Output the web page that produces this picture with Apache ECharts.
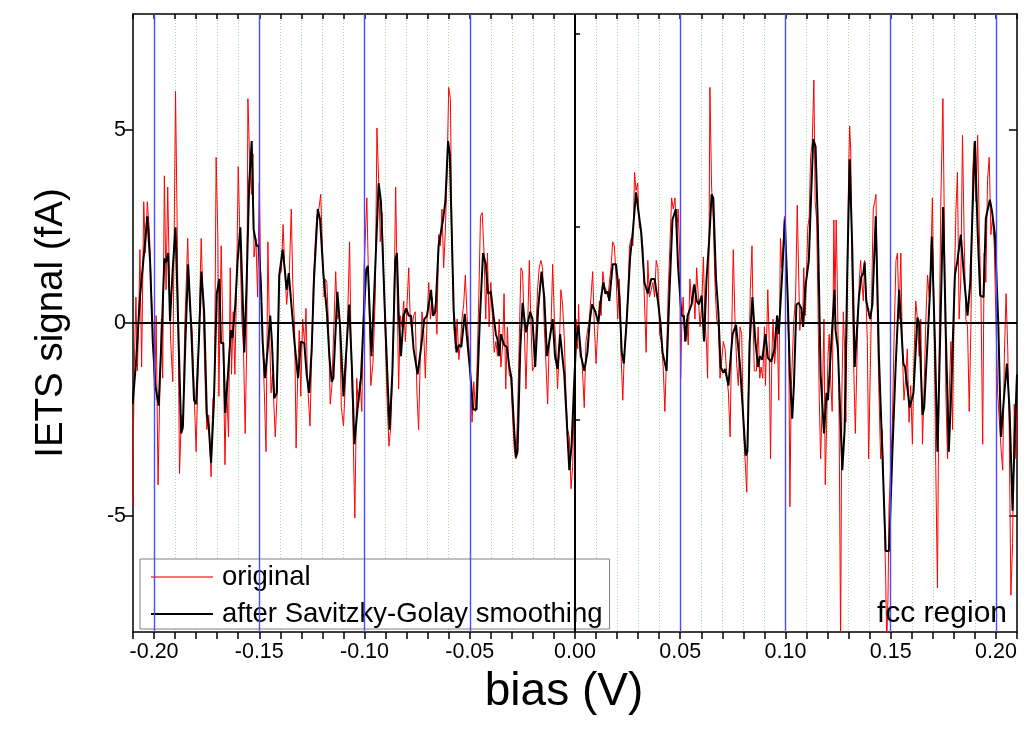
<!DOCTYPE html>
<html>
<head>
<meta charset="utf-8">
<script src="https://cdn.jsdelivr.net/npm/echarts@6/dist/echarts.min.js"></script>
<style>
html,body{margin:0;padding:0;background:#fff;}
#chart{width:1029px;height:744px;}
</style>
</head>
<body>
<div id="chart"></div>
<script>
// ---- data (bias in V, signal in fA) ----
const xTickLabels = [-0.20, -0.15, -0.10, -0.05, 0.00, 0.05, 0.10, 0.15, 0.20];
const yTickLabels = [-5, 0, 5];
const yMinorTicks = [-7.5, -2.5, 2.5, 7.5];
const majorGridX = [-0.20, -0.15, -0.10, -0.05, 0.05, 0.10, 0.15, 0.20];

const smoothX = [
-0.2102,-0.2086,-0.2078,-0.2067,-0.2059,-0.2046,-0.2032,-0.2019,-0.2006,-0.1994,-0.1987,-0.1978,-0.1965,-0.1951,-0.1943,-0.1933,-0.1924,-0.1911,-0.1898,-0.1886,
-0.1871,-0.1863,-0.1851,-0.1838,-0.1824,-0.1810,-0.1800,-0.1787,-0.1775,-0.1762,-0.1749,-0.1740,-0.1729,-0.1716,-0.1702,
-0.1690,-0.1682,-0.1671,-0.1662,-0.1651,-0.1635,-0.1627,-0.1614,-0.1603,-0.1590,-0.1579,-0.1571,-0.1560,-0.1548,-0.1536,-0.1527,-0.1513,-0.1503,-0.1492,-0.1484,
-0.1473,-0.1460,-0.1448,-0.1440,-0.1429,-0.1417,-0.1405,-0.1389,-0.1378,-0.1370,-0.1360,-0.1349,-0.1333,-0.1316,-0.1302,-0.1286,
-0.1275,-0.1263,-0.1251,-0.1240,-0.1222,-0.1211,-0.1195,-0.1179,-0.1167,-0.1156,-0.1148,-0.1129,-0.1116,-0.1100,-0.1073,-0.1060,-0.1048,-0.1033,-0.1017,-0.1005,
-0.0992,-0.0984,-0.0967,-0.0949,-0.0933,-0.0922,-0.0902,-0.0881,-0.0868,-0.0854,-0.0846,
-0.0838,-0.0827,-0.0814,-0.0802,-0.0790,-0.0779,-0.0767,-0.0748,-0.0732,-0.0716,-0.0703,-0.0684,-0.0675,-0.0663,-0.0648,-0.0627,-0.0616,-0.0603,-0.0595,-0.0576,
-0.0563,-0.0552,-0.0540,-0.0524,-0.0516,-0.0500,-0.0484,-0.0468,-0.0452,-0.0437,
-0.0424,-0.0413,-0.0400,-0.0387,-0.0376,-0.0368,-0.0360,-0.0352,-0.0337,-0.0324,-0.0313,-0.0302,-0.0289,-0.0281,-0.0273,-0.0260,-0.0249,-0.0233,-0.0213,-0.0202,
-0.0189,-0.0175,-0.0159,-0.0146,-0.0133,-0.0122,-0.0106,-0.0095,-0.0083,-0.0071,-0.0063,-0.0051,-0.0038,-0.0027,-0.0016,-0.0006,
0.0005,0.0016,0.0029,0.0044,0.0059,0.0071,0.0081,0.0097,0.0111,0.0124,0.0135,0.0144,0.0156,0.0163,0.0179,0.0195,0.0211,0.0222,0.0232,0.0246,
0.0262,0.0275,0.0290,0.0302,0.0314,0.0330,0.0346,0.0362,0.0378,0.0394,0.0406,
0.0416,0.0435,0.0448,0.0463,0.0479,0.0490,0.0506,0.0517,0.0525,0.0535,0.0543,0.0554,0.0567,0.0578,0.0589,0.0602,0.0613,0.0625,0.0638,0.0649,
0.0657,0.0670,0.0681,0.0692,0.0705,0.0713,0.0729,0.0740,0.0749,0.0765,0.0784,0.0792,0.0811,0.0819,
0.0830,0.0843,0.0857,0.0870,0.0878,0.0889,0.0905,0.0916,0.0932,0.0948,0.0960,0.0968,0.0984,0.0997,0.1011,0.1021,0.1032,0.1040,0.1052,0.1063,
0.1075,0.1084,0.1095,0.1111,0.1122,0.1132,0.1143,0.1154,0.1167,0.1183,0.1195,0.1202,0.1214,0.1233,
0.1238,0.1249,0.1270,0.1281,0.1294,0.1305,0.1317,0.1329,0.1338,0.1349,0.1360,0.1370,0.1376,0.1384,0.1402,0.1413,0.1429,0.1444,0.1460,0.1476,
0.1492,0.1508,0.1524,0.1540,0.1548,0.1560,0.1568,0.1576,0.1590,0.1608,0.1627,0.1635,0.1651,
0.1659,0.1675,0.1687,0.1695,0.1710,0.1722,0.1735,0.1749,0.1762,0.1776,0.1789,0.1805,0.1817,0.1833,0.1849,0.1865,0.1878,0.1889,0.1900,0.1913,
0.1925,0.1941,0.1952,0.1960,0.1971,0.1981,0.1989,0.1995,0.2011,0.2024,0.2037,0.2052,0.2065,0.2079,0.2090,0.2100
];
const smoothY = [
-2.10,-1.05,-1.05,0.67,0.67,1.90,2.76,1.62,-0.48,-1.62,-1.67,-2.14,-0.48,1.67,1.57,1.81,0.05,1.43,2.48,0.10,
-2.86,-2.67,-0.48,1.52,-0.05,-2.00,-2.10,-0.48,1.33,0.29,-2.38,-2.67,-3.62,-2.10,0.76,
1.14,-0.52,-0.52,-2.33,-1.52,-0.19,-0.38,0.48,1.62,2.48,0.67,-0.76,1.05,3.62,4.71,2.43,2.00,2.00,0.95,-0.48,
-1.43,-0.67,0.19,-0.48,-1.95,-1.81,1.24,1.90,1.33,0.86,1.29,0.57,-0.48,-1.43,-0.48,-0.52,
-1.33,-1.81,-0.67,1.14,2.95,2.67,1.24,0.29,-0.86,-1.52,-1.43,0.81,-0.10,-1.90,0.48,-1.14,-3.14,-2.19,-1.43,0.00,
1.38,1.48,-0.86,1.43,3.62,3.14,0.10,-2.76,-1.33,1.62,1.81,
0.29,-0.86,0.19,0.38,0.19,0.19,-0.67,-1.33,-0.67,0.10,0.19,0.86,0.19,0.29,2.00,2.67,3.14,4.71,4.38,0.29,
-0.76,-0.57,-0.62,0.24,0.19,-1.14,-2.24,-2.24,0.10,1.81,
1.52,0.76,0.81,0.19,-0.29,-0.43,-0.86,-0.29,-0.57,-0.62,-1.10,-1.43,-2.76,-3.48,-3.33,-0.67,0.52,-0.24,0.29,0.10,
-1.14,0.38,1.33,0.67,-0.86,-0.48,0.10,-0.86,-1.19,-0.29,-0.33,-1.33,-2.67,-3.81,-3.14,-1.81,
-0.48,-0.05,-0.86,-1.24,-0.76,0.10,0.48,0.29,0.00,0.67,1.05,0.76,0.81,0.57,1.52,1.52,0.67,-0.76,-1.05,0.10,
1.71,2.38,3.38,2.86,2.38,1.05,0.76,1.14,1.14,0.57,0.00,
-0.76,-1.24,0.67,2.67,2.95,1.43,0.19,0.19,-0.48,0.19,0.24,0.48,1.00,0.57,0.48,0.71,-0.48,1.14,2.19,3.33,
3.24,1.14,0.29,-1.14,-1.29,-1.19,-1.62,-0.86,-0.29,-0.05,-1.10,-1.10,-3.43,-3.33,
-0.50,0.67,-0.48,-1.14,-0.86,-0.95,-0.29,-0.90,-1.00,-0.67,0.19,-0.29,1.24,2.67,0.57,-1.33,-2.48,-1.62,0.48,0.52,
0.38,-0.10,0.95,1.62,3.33,4.76,4.57,2.48,-1.33,-2.86,-1.81,-2.00,-0.86,0.86,
-0.19,-0.67,-3.81,-2.76,1.43,4.24,2.00,-1.14,-1.19,0.67,1.19,1.29,1.57,0.57,0.10,0.48,2.76,-0.86,-3.33,-5.90,
-5.90,-3.33,-1.05,0.86,0.81,-1.05,-1.14,-1.14,-2.19,-1.81,0.14,0.00,-2.38,
-2.19,-0.48,0.86,2.24,-0.48,-3.33,-0.38,3.00,-0.29,-3.33,-1.52,1.24,1.62,2.29,1.14,0.19,1.05,2.95,4.71,2.38,
0.71,0.67,2.71,2.71,3.19,2.90,2.90,2.29,0.00,-2.95,-2.00,-1.05,-2.29,-4.86,-2.76,-1.33
];

const originalX = [
-0.2102,-0.2094,-0.2086,-0.2079,-0.2073,-0.2067,-0.2059,-0.2049,-0.2041,-0.2032,-0.2022,-0.2013,-0.2006,-0.1997,-0.1990,-0.1981,-0.1971,-0.1965,-0.1959,-0.1951,
-0.1943,-0.1935,-0.1927,-0.1921,-0.1911,-0.1898,-0.1889,-0.1879,-0.1870,-0.1863,-0.1854,-0.1840,-0.1832,-0.1819,-0.1806,-0.1800,-0.1787,-0.1776,-0.1765,-0.1756,
-0.1749,-0.1740,-0.1729,-0.1721,-0.1713,-0.1705,-0.1697,-0.1692,-0.1681,
-0.1671,-0.1663,-0.1656,-0.1646,-0.1638,-0.1632,-0.1624,-0.1616,-0.1608,-0.1600,-0.1592,-0.1583,-0.1575,-0.1567,-0.1560,-0.1554,-0.1544,-0.1537,-0.1530,-0.1525,
-0.1516,-0.1508,-0.1500,-0.1494,-0.1484,-0.1476,-0.1468,-0.1459,-0.1452,-0.1444,-0.1437,-0.1424,-0.1414,-0.1405,-0.1395,-0.1387,-0.1379,-0.1370,-0.1357,-0.1348,
-0.1341,-0.1332,-0.1325,-0.1317,-0.1310,-0.1303,-0.1294,-0.1284,-0.1278,-0.1271,
-0.1259,-0.1251,-0.1243,-0.1235,-0.1227,-0.1217,-0.1208,-0.1202,-0.1192,-0.1186,-0.1179,-0.1171,-0.1163,-0.1155,-0.1148,-0.1137,-0.1129,-0.1119,-0.1110,-0.1100,
-0.1087,-0.1079,-0.1071,-0.1063,-0.1056,-0.1046,-0.1037,-0.1029,-0.1021,-0.1013,-0.1002,-0.0989,-0.0979,-0.0970,-0.0960,-0.0949,-0.0941,-0.0933,-0.0925,-0.0917,
-0.0906,-0.0894,-0.0884,-0.0875,-0.0865,-0.0859,-0.0852,
-0.0846,-0.0838,-0.0830,-0.0822,-0.0814,-0.0806,-0.0798,-0.0790,-0.0783,-0.0775,-0.0767,-0.0759,-0.0751,-0.0743,-0.0735,-0.0727,-0.0719,-0.0711,-0.0703,-0.0695,
-0.0687,-0.0679,-0.0671,-0.0663,-0.0656,-0.0648,-0.0640,-0.0632,-0.0624,-0.0616,-0.0608,-0.0600,-0.0592,-0.0584,-0.0576,-0.0568,-0.0560,-0.0552,-0.0544,-0.0537,
-0.0529,-0.0521,-0.0513,-0.0505,-0.0497,-0.0489,-0.0481,-0.0473,-0.0465,-0.0457,-0.0449,-0.0441,
-0.0432,-0.0424,-0.0416,-0.0408,-0.0400,-0.0392,-0.0384,-0.0376,-0.0368,-0.0360,-0.0352,-0.0344,-0.0337,-0.0329,-0.0321,-0.0313,-0.0305,-0.0297,-0.0289,-0.0281,
-0.0273,-0.0265,-0.0257,-0.0249,-0.0241,-0.0233,-0.0225,-0.0217,-0.0210,-0.0202,-0.0194,-0.0186,-0.0178,-0.0170,-0.0162,-0.0154,-0.0146,-0.0138,-0.0130,-0.0122,
-0.0114,-0.0106,-0.0098,-0.0090,-0.0083,-0.0075,-0.0067,-0.0059,-0.0051,-0.0043,-0.0035,-0.0027,-0.0019,-0.0011,-0.0003,
0.0005,0.0013,0.0017,0.0024,0.0033,0.0044,0.0052,0.0060,0.0068,0.0076,0.0084,0.0092,0.0100,0.0108,0.0116,0.0124,0.0132,0.0140,0.0148,0.0156,
0.0163,0.0171,0.0179,0.0187,0.0195,0.0203,0.0211,0.0219,0.0227,0.0235,0.0243,0.0251,0.0259,0.0267,0.0275,0.0283,0.0290,0.0298,0.0306,0.0314,
0.0322,0.0330,0.0338,0.0346,0.0354,0.0362,0.0370,0.0378,0.0386,0.0394,0.0402,0.0410,
0.0419,0.0427,0.0435,0.0443,0.0451,0.0459,0.0467,0.0475,0.0483,0.0490,0.0498,0.0502,0.0508,0.0514,0.0522,0.0530,0.0538,0.0546,0.0554,0.0562,
0.0570,0.0578,0.0586,0.0594,0.0602,0.0610,0.0617,0.0625,0.0630,0.0637,0.0641,0.0649,0.0657,0.0665,0.0673,0.0681,0.0689,0.0697,0.0705,0.0713,
0.0721,0.0729,0.0737,0.0744,0.0752,0.0760,0.0768,0.0776,0.0784,0.0792,0.0800,0.0808,0.0816,0.0824,
0.0833,0.0841,0.0846,0.0852,0.0862,0.0870,0.0878,0.0884,0.0892,0.0900,0.0905,0.0910,0.0916,0.0922,0.0929,0.0935,0.0941,0.0948,0.0954,0.0960,
0.0968,0.0976,0.0983,0.0989,0.0995,0.1000,0.1008,0.1016,0.1021,0.1027,0.1033,0.1040,0.1048,0.1056,0.1060,0.1068,0.1075,0.1081,0.1087,0.1094,
0.1100,0.1106,0.1113,0.1119,0.1127,0.1135,0.1141,0.1148,0.1154,0.1160,0.1167,0.1175,0.1183,0.1189,0.1195,0.1202,0.1208,0.1214,0.1222,
0.1230,0.1235,0.1241,0.1246,0.1254,0.1262,0.1268,0.1275,0.1281,0.1287,0.1294,0.1300,0.1305,0.1310,0.1317,0.1325,0.1332,0.1338,0.1344,0.1351,
0.1357,0.1363,0.1370,0.1376,0.1383,0.1389,0.1395,0.1402,0.1408,0.1417,0.1424,0.1430,0.1437,0.1444,0.1452,0.1460,0.1468,0.1476,0.1481,0.1487,
0.1492,0.1500,0.1508,0.1516,0.1525,0.1532,0.1540,0.1548,0.1556,0.1563,0.1571,0.1579,0.1587,0.1595,0.1603,0.1611,0.1619,0.1627,0.1635,0.1643,0.1651,
0.1659,0.1667,0.1675,0.1683,0.1690,0.1698,0.1706,0.1714,0.1722,0.1730,0.1738,0.1748,0.1754,0.1762,0.1770,0.1778,0.1786,0.1794,0.1802,0.1810,
0.1817,0.1825,0.1833,0.1841,0.1849,0.1857,0.1865,0.1873,0.1881,0.1889,0.1897,0.1905,0.1913,0.1921,0.1929,0.1937,0.1944,0.1952,0.1960,0.1968,
0.1976,0.1984,0.1992,0.2000,0.2008,0.2016,0.2024,0.2032,0.2040,0.2048,0.2056,0.2063,0.2071,0.2079,0.2087,0.2095,0.2100
];
const originalY = [
-4.76,-1.14,0.67,-1.24,0.10,1.90,-1.14,3.14,1.81,3.14,2.38,0.86,-0.10,-2.00,0.19,-4.19,-1.33,0.10,-1.43,3.81,
0.86,3.52,1.05,-0.48,-1.52,6.00,2.00,-3.90,-2.38,-2.76,-0.10,2.19,0.48,-0.19,-2.38,-3.33,-0.29,2.19,0.10,-1.81,
-2.76,-2.38,-3.98,-2.00,-1.81,4.29,2.29,-1.90,2.00,
-0.76,-3.67,-1.52,-2.95,1.43,-1.33,0.29,-1.33,0.95,4.05,2.19,0.10,-0.67,-2.86,-0.67,5.81,3.90,3.33,4.38,1.71,
2.19,0.67,3.62,1.43,-0.48,-1.81,-3.33,2.10,-0.10,-1.81,-1.33,-2.95,-1.71,1.24,1.33,2.55,1.43,0.48,1.33,2.95,
1.05,-0.19,-3.24,-1.24,-0.19,-1.90,0.10,-0.57,0.38,-1.52,
-2.67,-0.86,1.05,2.00,2.76,2.95,3.33,2.29,0.67,1.14,1.05,-0.10,-2.10,-1.62,-1.62,1.33,0.10,0.29,-2.19,-2.67,
-1.05,0.38,2.10,-0.86,-2.38,-5.05,-1.43,-2.19,-1.52,-2.29,1.43,3.24,0.57,-1.62,-1.05,0.67,5.05,3.71,2.10,2.86,
0.57,-1.81,-3.19,-2.67,-0.86,0.95,3.52,
1.33,-1.71,0.19,-0.10,0.57,-0.48,0.48,1.43,0.10,-0.19,0.19,0.29,-1.81,-2.76,-0.86,0.29,-0.19,-1.43,0.10,1.05,
0.10,0.67,0.19,0.48,-0.29,2.29,2.00,2.95,1.43,2.38,3.90,6.10,5.81,1.81,-0.10,-0.67,0.10,-0.95,-0.48,0.10,
0.48,1.24,0.19,-0.57,-1.33,-2.57,-1.52,-2.29,-1.05,0.67,2.76,2.86,
1.81,0.10,1.81,-0.10,1.05,1.05,-0.76,-0.48,-0.86,0.10,-1.14,-0.57,0.76,-1.71,-0.10,-1.33,-1.43,-2.38,-3.24,-3.52,
-2.38,-0.48,1.43,1.33,-0.10,-1.71,-0.10,1.62,0.10,-1.24,-1.14,-0.29,0.86,1.43,1.62,1.43,-0.10,-1.05,-2.10,-0.38,
-0.10,1.52,0.10,-0.67,-1.71,-0.76,0.86,0.48,-0.38,-1.81,-2.76,-2.95,-4.29,-3.71,-1.62,
0.10,-0.67,0.48,-0.86,-0.95,-2.19,-0.48,-0.48,0.10,0.67,1.33,-0.10,-1.05,-0.19,0.57,0.19,1.33,0.95,0.86,0.67,
0.67,1.43,2.10,2.00,1.24,0.10,1.14,-0.86,-2.00,-0.67,-0.10,0.67,2.00,2.19,2.00,3.90,3.43,3.62,2.48,2.38,
2.00,0.57,-0.76,1.62,0.67,0.86,1.05,0.67,1.62,1.43,-0.29,-0.48,
-1.14,-2.29,-0.86,0.86,2.00,3.24,2.95,3.24,2.29,2.95,1.71,-1.43,0.10,0.67,-0.48,0.10,-0.57,1.14,0.48,0.95,
0.10,1.43,0.67,-0.10,0.48,1.71,0.10,-0.57,-1.43,2.19,6.10,3.52,2.67,1.05,0.10,-0.10,-1.43,-1.43,-0.48,-0.67,
-1.33,-1.81,-2.95,-0.38,1.90,0.10,-1.05,-1.62,-0.10,-0.29,-2.76,-3.52,-4.38,-1.81,
0.86,2.00,0.10,-1.24,-1.24,-0.10,-1.43,-1.14,-1.43,-0.10,-1.62,-1.62,0.86,-0.29,-3.52,-0.86,0.10,-1.05,-0.67,0.19,
-2.00,2.19,1.43,2.00,2.76,2.76,1.05,-0.86,-4.76,-1.81,-0.86,0.10,0.67,3.05,2.00,-0.19,0.29,-0.10,1.43,0.19,
1.24,2.48,2.76,4.29,4.67,6.29,3.14,2.67,0.67,-1.81,-3.52,-2.00,0.10,-4.19,-2.76,-0.86,-0.29,-1.43,-2.29,
2.67,0.57,2.67,1.05,-1.81,-8.30,-1.81,0.29,-0.67,-2.57,1.05,3.90,5.10,4.48,1.05,-1.33,-2.86,-1.33,0.10,1.14,
1.62,1.05,0.57,1.62,0.57,-0.48,-3.52,-1.52,0.29,2.95,3.14,3.33,0.10,-1.81,-3.52,-2.76,-4.67,-6.57,-8.30,-7.14,
-4.76,-3.71,-2.57,-0.38,1.62,1.81,0.10,1.81,-0.86,-2.00,-1.43,-0.67,-2.57,-1.62,-3.14,-0.86,0.57,0.10,-0.86,0.10,-3.14,
-1.62,0.10,1.24,0.67,1.43,3.24,0.10,-3.71,-6.86,-0.86,3.14,5.81,2.95,-1.81,-3.52,-1.81,-0.48,-2.76,0.86,2.95,
3.90,0.10,1.14,4.86,2.19,0.10,-0.10,-2.29,-0.10,3.90,4.67,3.14,4.86,2.38,0.57,-3.14,1.81,1.05,3.71,4.29,
2.29,2.76,2.00,0.10,-1.81,-1.81,-3.24,-3.81,-0.86,0.76,-0.67,-2.76,-7.05,-5.71,-2.10,-3.52,-2.20
];

const smoothData = smoothX.map((x, i) => [x, smoothY[i]]);
const originalData = originalX.map((x, i) => [x, originalY[i]]);

const FONT = '"Liberation Sans", Arial, sans-serif';
const chart = echarts.init(document.getElementById('chart'), null, {renderer: 'canvas'});

function xFmt(v) {
  const k = Math.round(v * 100);
  if (k % 5 !== 0) return '';
  return (k / 100).toFixed(2);
}

const option = {
  animation: false,
  backgroundColor: '#ffffff',
  grid: {left: 133, right: 12, top: 14, bottom: 112, containLabel: false},
  title: {
    text: 'fcc region', right: 22, bottom: 115, padding: 0,
    textStyle: {fontFamily: FONT, fontSize: 30, fontWeight: 'normal', color: '#000'}
  },
  legend: {
    orient: 'vertical', left: 140, top: 559,
    data: [
      {name: 'original', icon: 'rect', itemStyle: {color: '#ff7070'}},
      {name: 'after Savitzky-Golay smoothing', icon: 'rect', itemStyle: {color: '#000000'}}
    ],
    itemWidth: 62, itemHeight: 2, itemGap: 7,
    padding: [3, 7, 0, 11],
    borderColor: '#808080', borderWidth: 1, backgroundColor: '#ffffff',
    textStyle: {fontFamily: FONT, fontSize: 27.5, color: '#000', lineHeight: 30, padding: [0, 0, 0, 4]}
  },
  xAxis: [
    {
      type: 'value', position: 'bottom', min: -0.21, max: 0.21, interval: 0.01,
      name: 'bias (V)', nameLocation: 'middle', nameGap: 37,
      nameTextStyle: {fontFamily: FONT, fontSize: 46, color: '#000', padding: [0, 22, 0, 0]},
      axisLine: {show: true, onZero: false, lineStyle: {color: '#000', width: 1.5}},
      axisTick: {show: true, inside: false, length: 7, lineStyle: {color: '#000', width: 1.5}},
      axisLabel: {show: true, formatter: xFmt, fontFamily: FONT, fontSize: 21.5, color: '#000', margin: 9, showMinLabel: true, showMaxLabel: true},
      splitLine: {show: true, lineStyle: {color: '#8fe08f', type: [1, 2], width: 1}}
    },
    {
      type: 'value', position: 'top', min: -0.21, max: 0.21, interval: 0.01,
      axisLine: {show: true, onZero: false, lineStyle: {color: '#000', width: 1.5}},
      axisTick: {show: true, inside: true, length: 5, lineStyle: {color: '#000', width: 1.5}},
      axisLabel: {show: false}, splitLine: {show: false}
    }
  ],
  yAxis: [
    {
      type: 'value', position: 'left', min: -8, max: 8,
      name: 'IETS signal (fA)', nameLocation: 'middle', nameGap: 62, nameRotate: 90,
      nameTextStyle: {fontFamily: FONT, fontSize: 38.5, color: '#000'},
      axisLine: {show: true, onZero: false, lineStyle: {color: '#000', width: 1.5}},
      axisTick: {show: true, inside: false, length: 8, customValues: yTickLabels, lineStyle: {color: '#000', width: 1.5}},
      axisLabel: {show: true, customValues: yTickLabels, fontFamily: FONT, fontSize: 21.5, color: '#000', margin: 7,
        formatter: v => String(Math.round(v))},
      splitLine: {show: false}
    },
    {
      type: 'value', position: 'right', min: -8, max: 8,
      axisLine: {show: true, onZero: false, lineStyle: {color: '#000', width: 1.5}},
      axisTick: {show: true, inside: true, length: 8, customValues: yTickLabels, lineStyle: {color: '#000', width: 1.5}},
      axisLabel: {show: false}, splitLine: {show: false}
    },
    {
      type: 'value', position: 'right', min: -8, max: 8,
      axisLine: {show: false},
      axisTick: {show: true, inside: false, length: 5, customValues: yMinorTicks, lineStyle: {color: '#000', width: 1.5}},
      axisLabel: {show: false}, splitLine: {show: false}
    },
    {
      type: 'value', position: 'left', min: -8, max: 8,
      axisLine: {show: false},
      axisTick: {show: true, inside: true, length: 5, customValues: yMinorTicks, lineStyle: {color: '#000', width: 1.5}},
      axisLabel: {show: false}, splitLine: {show: false}
    }
  ],
  series: [
    {
      name: 'gridlines', type: 'line', data: [], z: 1, silent: true,
      markLine: {
        silent: true, symbol: 'none', label: {show: false}, animation: false,
        lineStyle: {color: '#4a4aff', width: 1.4, type: 'solid'},
        data: majorGridX.map(v => ({xAxis: v}))
      }
    },
    {
      name: 'original', type: 'line', data: originalData, z: 2,
      symbol: 'none', showSymbol: false, clip: true,
      lineStyle: {color: '#ff0000', width: 1}, itemStyle: {color: '#ff0000'}
    },
    {
      name: 'after Savitzky-Golay smoothing', type: 'line', data: smoothData, z: 3,
      symbol: 'none', showSymbol: false, clip: true,
      lineStyle: {color: '#000000', width: 2}, itemStyle: {color: '#000000'},
      markLine: {
        silent: true, symbol: 'none', label: {show: false}, animation: false,
        lineStyle: {color: '#000', width: 2, type: 'solid'},
        data: [{xAxis: 0}, {yAxis: 0}]
      }
    }
  ]
};
chart.setOption(option);
</script>
</body>
</html>
